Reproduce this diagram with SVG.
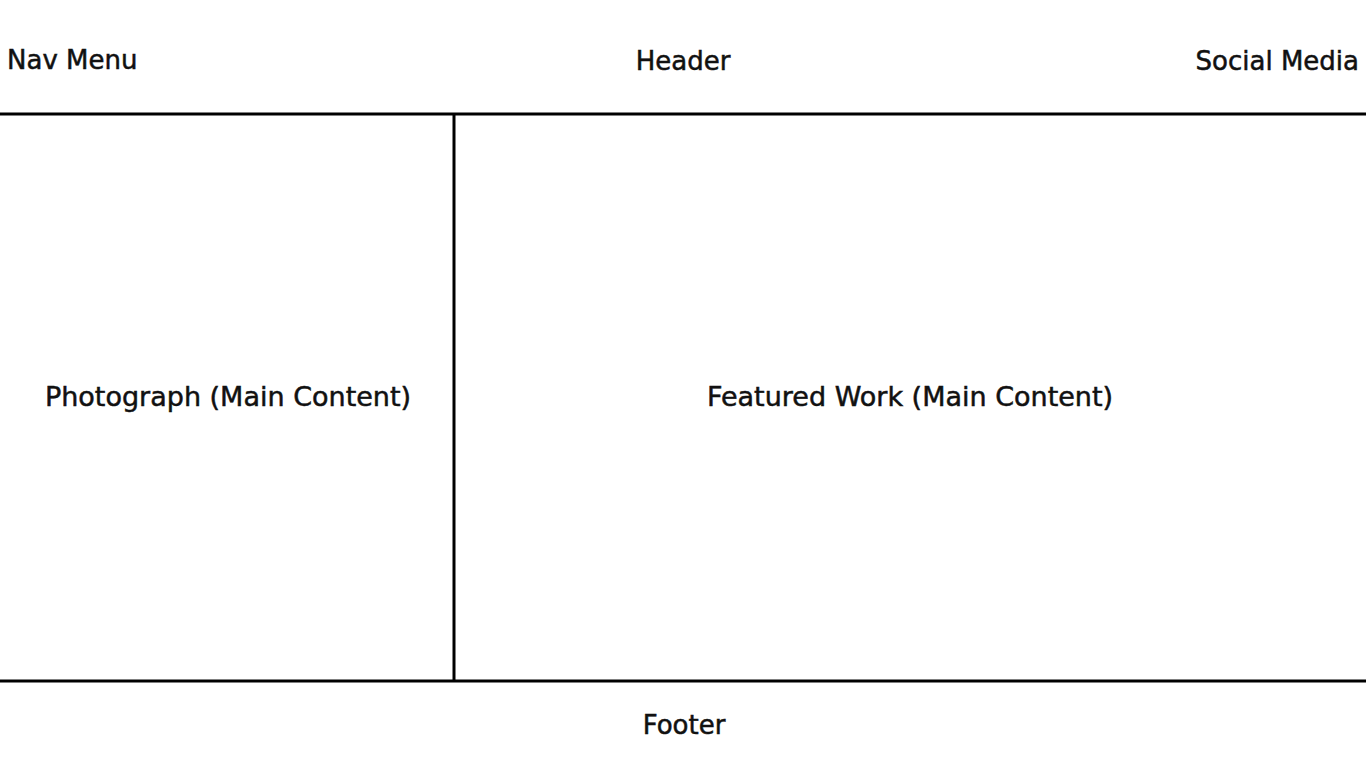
<svg xmlns="http://www.w3.org/2000/svg" width="1366" height="768" viewBox="0 0 1366 768">
<style>
text{font-family:"DejaVu Sans","Liberation Sans",sans-serif;font-size:26px;fill:#111;stroke:#111;stroke-width:0.5}
.big{font-size:27px}
.ln{stroke:#000;stroke-width:3;fill:none}
</style>
<rect width="1366" height="768" fill="#fff"/>
<g id="connectors">
<line class="ln" x1="0" y1="114" x2="1366" y2="114"/>
<line class="ln" x1="0" y1="681" x2="1366" y2="681"/>
<line class="ln" x1="454" y1="114" x2="454" y2="681"/>
</g>
<g id="nav"><text x="7" y="69">Nav Menu</text></g>
<g id="header"><text x="683" y="70" text-anchor="middle">Header</text></g>
<g id="social"><text x="1359" y="70" text-anchor="end">Social Media</text></g>
<g id="photo"><text class="big" x="228" y="406" text-anchor="middle">Photograph (Main Content)</text></g>
<g id="featured"><text class="big" x="910" y="406" text-anchor="middle">Featured Work (Main Content)</text></g>
<g id="footer"><text x="684" y="734" text-anchor="middle">Footer</text></g>
</svg>
